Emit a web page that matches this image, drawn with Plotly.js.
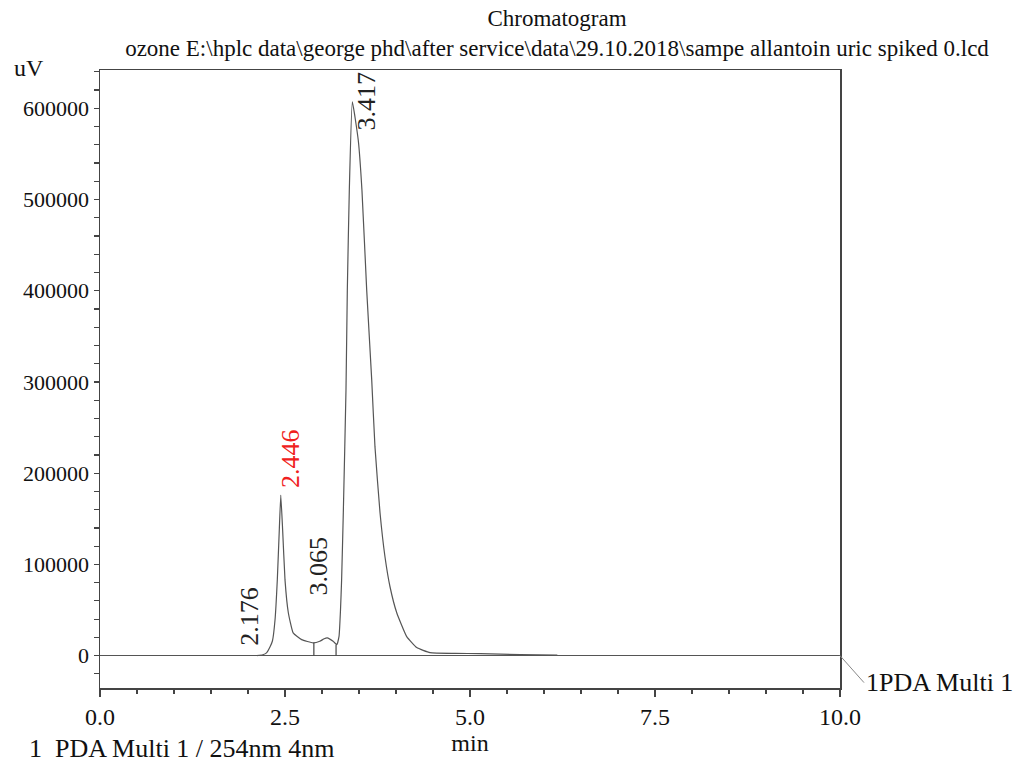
<!DOCTYPE html>
<html>
<head>
<meta charset="utf-8">
<script src="https://cdn.plot.ly/plotly-3.0.1.min.js"></script>
<style>
  html, body { margin: 0; padding: 0; background: #fff; }
  #chart { width: 1021px; height: 764px; }
</style>
</head>
<body>
<div id="chart"></div>
<script>
// Retention time (min) and detector signal (uV)
const timeMin = [2.12, 2.2, 2.25, 2.3, 2.33, 2.365, 2.396, 2.423, 2.443, 2.468, 2.5, 2.545, 2.61, 2.725, 2.88, 2.97, 3.03, 3.07, 3.15, 3.2, 3.23, 3.25, 3.265, 3.288, 3.324, 3.342, 3.369, 3.41, 3.49, 3.54, 3.604, 3.672, 3.716, 3.784, 3.851, 3.919, 4.01, 4.145, 4.28, 4.46, 4.8, 5.14, 5.68, 6.18];
const signalUV = [0, 1000, 3000, 10000, 16000, 39000, 83000, 138000, 176000, 138000, 83000, 47000, 25000, 17500, 14000, 15700, 18500, 19400, 15700, 12000, 21000, 50000, 83000, 156600, 291000, 400000, 510000, 607000, 565000, 510000, 400700, 302000, 228800, 156600, 108400, 75500, 47000, 20800, 8800, 3300, 2500, 2200, 1100, 500];

// Peak labels (retention times) and label base heights
const peakTimes = [2.176, 2.446, 3.065, 3.417];
const peakLabels = ["2.176", "2.446", "3.065", "3.417"];
const peakLabelBase = [8200, 181000, 64000, 574000];
const peakLabelColors = ["#222222", "#f02020", "#222222", "#222222"];
const peakLabelShift = [-11, 9, -8, 14];

// Integration boundary marks
const boundaryTimes = [2.89, 3.19];
const boundaryHeights = [14000, 12000];

const xTickVals = [0, 2.5, 5, 7.5, 10];
const yTickVals = [0, 100000, 200000, 300000, 400000, 500000, 600000];

const serif = "Liberation Serif, Times New Roman, serif";

const bx = [], by = [];
boundaryTimes.forEach((t, i) => { bx.push(t, t, null); by.push(0, boundaryHeights[i], null); });

const traces = [
  { x: timeMin, y: signalUV, type: "scatter", mode: "lines",
    line: { color: "#555555", width: 1.2, shape: "spline", smoothing: 0.4 }, hoverinfo: "x+y", showlegend: false },
  { x: bx, y: by, type: "scatter", mode: "lines",
    line: { color: "#444444", width: 1.2 }, hoverinfo: "skip", showlegend: false }
];

const annotations = peakTimes.map((t, i) => ({
  x: t, y: peakLabelBase[i], xref: "x", yref: "y",
  text: peakLabels[i], textangle: -90, showarrow: false,
  xanchor: "center", yanchor: "bottom", xshift: peakLabelShift[i],
  font: { family: serif, size: 26, color: peakLabelColors[i] }
}));

annotations.push(
  { xref: "paper", yref: "paper", x: -0.119, y: 1.003, xanchor: "left", yanchor: "middle",
    text: "uV", showarrow: false, font: { family: serif, size: 24, color: "#111" } },
  { xref: "paper", yref: "paper", x: -0.0986, y: -0.0975, xanchor: "left", yanchor: "middle",
    text: "1  PDA Multi 1 / 254nm 4nm", showarrow: false, font: { family: serif, size: 26, color: "#111" } },
  { xref: "x", yref: "y", x: 10, y: 0, text: "1PDA Multi 1", showarrow: true, arrowhead: 0,
    arrowwidth: 1, arrowcolor: "#888", ax: 24, ay: 27, xanchor: "left", yanchor: "middle",
    font: { family: serif, size: 26, color: "#111" } }
);

const layout = {
  width: 1021, height: 764,
  margin: { l: 100, r: 181, t: 70, b: 76 },
  paper_bgcolor: "#ffffff", plot_bgcolor: "#ffffff",
  title: {
    text: "Chromatogram<br>ozone E:\\hplc data\\george phd\\after service\\data\\29.10.2018\\sampe allantoin uric spiked 0.lcd",
    x: 557 / 1021, xanchor: "center", xref: "container",
    y: 1 - 26 / 764, yanchor: "top", yref: "container",
    font: { family: serif, size: 23, color: "#111" }
  },
  xaxis: {
    range: [0, 10], tickvals: xTickVals, tickformat: ".1f",
    ticks: "outside", ticklen: 7, tickwidth: 1.2, tickcolor: "#444",
    minor: { dtick: 0.5, ticks: "outside", ticklen: 4, tickcolor: "#444", showgrid: false },
    showline: true, linecolor: "#444", linewidth: 1.5, mirror: true,
    showgrid: false, zeroline: false,
    tickfont: { family: serif, size: 24, color: "#111" },
    title: { text: "min", standoff: 4, font: { family: serif, size: 24, color: "#111" } }
  },
  yaxis: {
    range: [-35500, 642000], tickvals: yTickVals, tickformat: "d",
    ticks: "outside", ticklen: 5, tickwidth: 1.2, tickcolor: "#444",
    minor: { dtick: 20000, ticks: "outside", ticklen: 5, tickcolor: "#444", showgrid: false },
    showline: true, linecolor: "#444", linewidth: 1.5, mirror: true,
    showgrid: false, zeroline: true, zerolinecolor: "#555", zerolinewidth: 1.2,
    tickfont: { family: serif, size: 22, color: "#111" }
  },
  annotations: annotations,
  showlegend: false
};

Plotly.newPlot("chart", traces, layout, { displayModeBar: false, staticPlot: true });
</script>
</body>
</html>
